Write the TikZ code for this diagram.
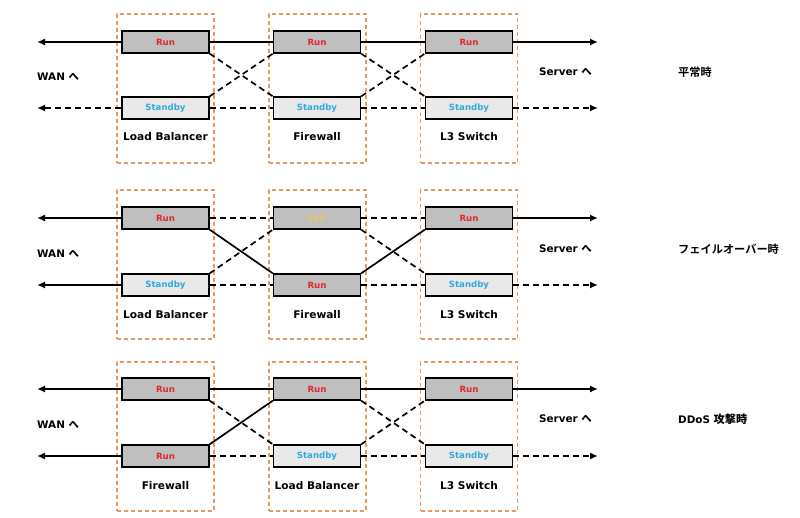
\documentclass[tikz,border=0pt]{standalone}
\usepackage{fontspec}
\setmainfont{DejaVu Sans}
\newfontfamily\jp{Noto Sans CJK JP Bold}
\usetikzlibrary{arrows.meta}
\definecolor{rungray}{HTML}{BFBFBF}
\definecolor{sbgray}{HTML}{E9E9E9}
\definecolor{runred}{HTML}{E0262B}
\definecolor{sbblue}{HTML}{30A8DE}
\definecolor{failyel}{HTML}{EDC55E}
\definecolor{grporange}{HTML}{E59A63}
\begin{document}
\begin{tikzpicture}[x=1pt,y=-1pt,
  box/.style={draw=black, line width=1.2pt, minimum width=87pt, minimum height=22pt, inner sep=0pt, font=\fontsize{8.6}{9}\selectfont\bfseries},
  run/.style={box, fill=rungray, text=runred},
  sb/.style={box, fill=sbgray, text=sbblue},
  fail/.style={box, fill=rungray, text=failyel},
  grp/.style={draw=grporange, line width=1.2pt, dash pattern=on 4pt off 3pt, minimum width=97pt, minimum height=149pt, inner sep=0pt},
  lbl/.style={font=\fontsize{10.6}{12}\selectfont\bfseries, inner sep=0pt},
  side/.style={font=\fontsize{10.4}{12}\selectfont\bfseries, inner sep=0pt, anchor=west},
  jps/.style={font=\fontsize{11.2}{12}\selectfont\jp, inner sep=0pt, anchor=west},
  sl/.style={line width=1.7pt},
  dl/.style={line width=1.7pt, dash pattern=on 6pt off 4pt},
  arr/.style={-{Latex[length=8pt,width=7pt]}}
]
\useasboundingbox (0,0) rectangle (800,518);

% ---------------- Row 1 ----------------
\node[grp] (g11) at (165.5,88.5) {};
\node[grp] (g12) at (317.5,88.5) {};
\node[grp] (g13) at (469,88.5) {};
\node[run] (a1) at (165.5,42) {Run};
\node[sb]  (a2) at (165.5,108) {Standby};
\node[run] (b1) at (317,42) {Run};
\node[sb]  (b2) at (317,108) {Standby};
\node[run] (c1) at (469,42) {Run};
\node[sb]  (c2) at (469,108) {Standby};
\node[lbl] (la) at (165.5,137) {Load Balancer};
\node[lbl] (lb) at (317,137) {Firewall};
\node[lbl] (lc) at (469,137) {L3 Switch};
\node[side] (wan1) at (37,77) {WAN {\jp へ}};
\node[side] (srv1) at (539,72) {Server {\jp へ}};
\node[jps] (st1) at (678,72) {平常時};
\coordinate (w11) at (37,42);
\coordinate (w12) at (37,108);
\coordinate (e11) at (598,42);
\coordinate (e12) at (598,108);
\draw[sl,arr] (a1.west) -- (w11);
\draw[dl,arr] (a2.west) -- (w12);
\draw[sl] (a1.east) -- (b1.west);
\draw[sl] (b1.east) -- (c1.west);
\draw[sl,arr] (c1.east) -- (e11);
\draw[dl] (a2.east) -- (b2.west);
\draw[dl] (b2.east) -- (c2.west);
\draw[dl,arr] (c2.east) -- (e12);
\draw[dl] (a1.south east) -- (b2.north west);
\draw[dl] (a2.north east) -- (b1.south west);
\draw[dl] (b1.south east) -- (c2.north west);
\draw[dl] (b2.north east) -- (c1.south west);

% ---------------- Row 2 ----------------
\node[grp] (g21) at (165.5,264.5) {};
\node[grp] (g22) at (317.5,264.5) {};
\node[grp] (g23) at (469,264.5) {};
\node[run] (d1) at (165.5,218) {Run};
\node[sb]  (d2) at (165.5,285) {Standby};
\node[fail] (f1) at (317,218) {Fail};
\node[run] (f2) at (317,285) {Run};
\node[run] (h1) at (469,218) {Run};
\node[sb]  (h2) at (469,285) {Standby};
\node[lbl] (ld) at (165.5,315) {Load Balancer};
\node[lbl] (lf) at (317,315) {Firewall};
\node[lbl] (lh) at (469,315) {L3 Switch};
\node[side] (wan2) at (37,254) {WAN {\jp へ}};
\node[side] (srv2) at (539,249) {Server {\jp へ}};
\node[jps] (st2) at (678,249) {フェイルオーバー時};
\coordinate (w21) at (37,218);
\coordinate (w22) at (37,285);
\coordinate (e21) at (598,218);
\coordinate (e22) at (598,285);
\draw[sl,arr] (d1.west) -- (w21);
\draw[sl,arr] (d2.west) -- (w22);
\draw[dl] (d1.east) -- (f1.west);
\draw[dl] (f1.east) -- (h1.west);
\draw[sl,arr] (h1.east) -- (e21);
\draw[dl] (d2.east) -- (f2.west);
\draw[dl] (f2.east) -- (h2.west);
\draw[dl,arr] (h2.east) -- (e22);
\draw[sl] (d1.south east) -- (f2.north west);
\draw[dl] (d2.north east) -- (f1.south west);
\draw[dl] (f1.south east) -- (h2.north west);
\draw[sl] (f2.north east) -- (h1.south west);

% ---------------- Row 3 ----------------
\node[grp] (g31) at (165.5,436.5) {};
\node[grp] (g32) at (317.5,436.5) {};
\node[grp] (g33) at (469,436.5) {};
\node[run] (p1) at (165.5,389) {Run};
\node[run] (p2) at (165.5,456) {Run};
\node[run] (q1) at (317,389) {Run};
\node[sb]  (q2) at (317,456) {Standby};
\node[run] (s1) at (469,389) {Run};
\node[sb]  (s2) at (469,456) {Standby};
\node[lbl] (lp) at (165.5,486) {Firewall};
\node[lbl] (lq) at (317,486) {Load Balancer};
\node[lbl] (ls) at (469,486) {L3 Switch};
\node[side] (wan3) at (37,425) {WAN {\jp へ}};
\node[side] (srv3) at (539,419) {Server {\jp へ}};
\node[side] (st3) at (678,419) {DDoS {\fontsize{11.2}{12}\selectfont\jp 攻撃時}};
\coordinate (w31) at (37,389);
\coordinate (w32) at (37,456);
\coordinate (e31) at (598,389);
\coordinate (e32) at (598,456);
\draw[sl,arr] (p1.west) -- (w31);
\draw[sl,arr] (p2.west) -- (w32);
\draw[sl] (p1.east) -- (q1.west);
\draw[sl] (q1.east) -- (s1.west);
\draw[sl,arr] (s1.east) -- (e31);
\draw[dl] (p2.east) -- (q2.west);
\draw[dl] (q2.east) -- (s2.west);
\draw[dl,arr] (s2.east) -- (e32);
\draw[dl] (p1.south east) -- (q2.north west);
\draw[sl] (p2.north east) -- (q1.south west);
\draw[dl] (q1.south east) -- (s2.north west);
\draw[dl] (q2.north east) -- (s1.south west);
\end{tikzpicture}
\end{document}
